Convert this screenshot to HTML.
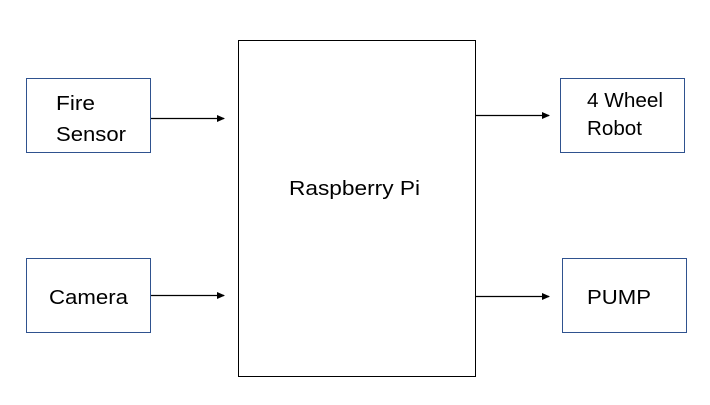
<!DOCTYPE html>
<html><head><meta charset="utf-8"><style>
body{margin:0;background:#fff;width:710px;height:400px;overflow:hidden}
svg text{font-family:"Liberation Sans",sans-serif;font-size:20px;fill:#000}
</style></head><body>
<svg width="710" height="400" viewBox="0 0 710 400">
<defs><marker id="a" markerWidth="8" markerHeight="8" refX="7" refY="4" orient="auto" markerUnits="userSpaceOnUse"><path d="M0,0.5 L8,4 L0,7.5Z" fill="#000"/></marker></defs>
<g fill="none" stroke="#2F528F" stroke-width="1">
<rect x="26.5" y="78.5" width="124" height="74"/>
<rect x="26.5" y="258.5" width="124" height="74"/>
<rect x="560.5" y="78.5" width="124" height="74"/>
<rect x="562.5" y="258.5" width="124" height="74"/>
</g>
<rect x="238.5" y="40.5" width="237" height="336" fill="none" stroke="#000" stroke-width="1"/>
<g stroke="#000" stroke-width="1.2" marker-end="url(#a)">
<line x1="151" y1="118.5" x2="224" y2="118.5"/>
<line x1="151" y1="295.5" x2="224" y2="295.5"/>
<line x1="476" y1="115.5" x2="549" y2="115.5"/>
<line x1="476" y1="296.5" x2="549" y2="296.5"/>
</g>
<text x="56" y="110" textLength="39" lengthAdjust="spacingAndGlyphs">Fire</text>
<text x="56" y="141" textLength="70" lengthAdjust="spacingAndGlyphs">Sensor</text>
<text x="49" y="304" textLength="79" lengthAdjust="spacingAndGlyphs">Camera</text>
<text x="587" y="107" textLength="76" lengthAdjust="spacingAndGlyphs">4 Wheel</text>
<text x="587" y="135" textLength="55" lengthAdjust="spacingAndGlyphs">Robot</text>
<text x="587" y="304" textLength="64" lengthAdjust="spacingAndGlyphs">PUMP</text>
<text x="289" y="195" textLength="131" lengthAdjust="spacingAndGlyphs">Raspberry Pi</text>
</svg>
</body></html>
